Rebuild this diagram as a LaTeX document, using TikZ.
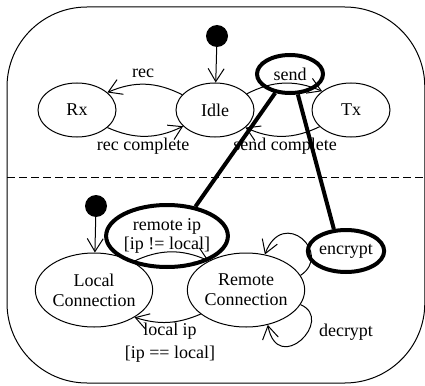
\documentclass[tikz,border=0pt]{standalone}
\usepackage{fontspec}
\setmainfont{Liberation Serif}
\usetikzlibrary{arrows.meta,shapes.geometric}

\begin{document}
\begin{tikzpicture}[x=1pt,y=-1pt,
  font=\fontsize{18}{21}\selectfont,
  state/.style={ellipse,draw,line width=1pt,inner sep=0pt,
                minimum width=78pt,minimum height=54pt,align=center},
  bigstate/.style={state,minimum width=100pt,minimum height=74pt},
  initdot/.style={circle,fill=black,inner sep=0pt,minimum size=22pt},
  hlmark/.style={ellipse,draw,line width=4pt,inner sep=0pt,align=center},
  trans/.style={line width=1pt,-{Straight Barb[length=13pt,width=16pt,line width=1pt]}},
  link/.style={line width=4pt},
  lbl/.style={inner sep=0pt}]
\useasboundingbox (0,0) rectangle (425,385);

% outer composite state and its region divider
\draw[line width=1pt,rounded corners=80pt] (7,7) rectangle (424.8,383);
\draw[line width=1pt,dash pattern=on 8pt off 4pt] (7,177) -- (425,177);

% upper region
\node[initdot] (i1) at (217,36) {};
\node[state] (rx)   at (77,110)  {Rx};
\node[state] (idle) at (215,110) {Idle};
\node[state] (tx)   at (351,110) {Tx};

\draw[trans] (i1) -- (idle);
\draw[trans] (idle.155) to[bend right=25] (rx.30);
\draw[trans] (rx.330) to[bend right=25] (idle.207);
\draw[trans] (idle.27) to[bend left=25] (tx.147);
\draw[trans] (tx.208) to[bend left=25] (idle.330);

\node[lbl] (lrec)  at (143,73)  {rec};
\node[lbl] (lrecc) at (143,146) {rec complete};
\node[lbl] (lsndc) at (285,146) {send complete};

% lower region
\node[initdot] (i2) at (96,206) {};
\node[bigstate] (local)  at (94,290)  {Local\\[-1pt]Connection};
\node[bigstate] (remote) at (246,290) {Remote\\[-1pt]Connection};

\draw[trans] (i2) -- (local);
\draw[trans] (local.36) to[bend left=25] (remote.142);
\draw[trans] (remote.208) to[bend left=20] (local.326);
\draw[trans] (remote.15) .. controls +(33,-22) and +(18,-48) .. (remote.62);
\draw[trans] (remote.345) .. controls +(35,15) and +(10,52) .. (remote.302);

\node[lbl,align=center] (llocal) at (170,343) {local ip\\[2pt]{[ip == local]}};
\node[lbl] (ldec) at (346,332) {decrypt};

% highlighted elements
\node[hlmark,minimum width=66pt,minimum height=38pt] (send) at (290,74) {send};
\node[hlmark,minimum width=114pt,minimum height=62pt] (rip) at (167,236)
  {remote ip\\[-2pt]{[ip != local]}};
\node[hlmark,minimum width=72pt,minimum height=42pt] (enc) at (346,251) {encrypt};

\draw[link] (send.232) -- (rip.46);
\draw[link] (send.291) -- (enc.119);
\end{tikzpicture}
\end{document}
